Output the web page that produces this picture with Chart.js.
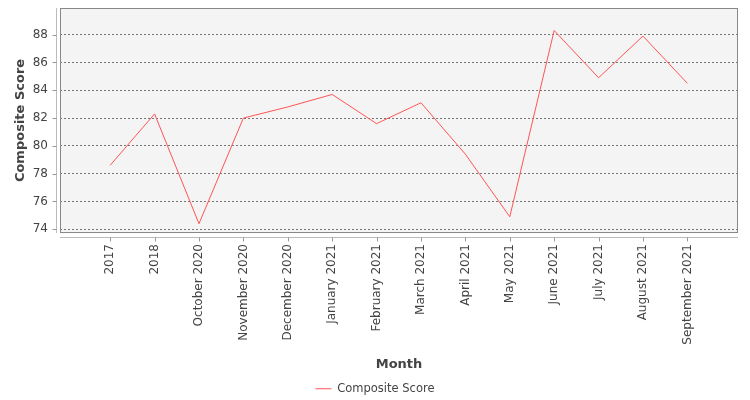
<!DOCTYPE html>
<html>
<head>
<meta charset="utf-8">
<script src="https://cdn.jsdelivr.net/npm/chart.js@4"></script>
<style>
  html, body { margin: 0; padding: 0; background: #fff; }
</style>
</head>
<body>
<canvas id="chart" width="750" height="400"></canvas>
<script>
// values
const months = ['2017', '2018', 'October 2020', 'November 2020', 'December 2020',
  'January 2021', 'February 2021', 'March 2021', 'April 2021', 'May 2021',
  'June 2021', 'July 2021', 'August 2021', 'September 2021'];
const scores = [78.6, 82.3, 74.4, 82.0, 82.8, 83.7, 81.6, 83.1, 79.4, 74.9, 88.3, 84.9, 87.9, 84.5];
const yTicks = [74, 76, 78, 80, 82, 84, 86, 88];

const FONT = 'DejaVu Sans';
const TEXT = '#444';
const PLOT_BOTTOM = 233;

// plot background, frame and the offset axis lines
const plotFrame = {
  id: 'plotFrame',
  afterLayout(chart) {
    // centre the legend on the whole canvas and nudge it down a little
    const lg = chart.legend;
    lg.left = 0;
    lg.right = chart.width;
    lg.width = chart.width;
    lg.top += 4.5;
    lg.bottom += 4.5;
  },
  beforeDraw(chart) {
    const {ctx, chartArea: a} = chart;
    ctx.save();
    ctx.fillStyle = '#f4f4f4';
    ctx.fillRect(a.left, a.top, a.right - a.left, a.bottom - a.top);
    ctx.restore();
  },
  afterDraw(chart) {
    const {ctx, chartArea: a, scales} = chart;
    ctx.save();
    ctx.lineWidth = 1;
    ctx.strokeStyle = '#888';
    ctx.strokeRect(Math.round(a.left) + 0.5, Math.round(a.top) + 0.5,
      Math.round(a.right - a.left) - 1, Math.round(a.bottom - a.top) - 1);

    ctx.strokeStyle = '#bbb';
    const ax = Math.round(a.left) - 4 + 0.5;
    const ay = Math.round(a.bottom) + 4 + 0.5;
    ctx.beginPath();
    ctx.moveTo(ax, a.top);
    ctx.lineTo(ax, a.bottom);
    ctx.moveTo(a.left, ay);
    ctx.lineTo(a.right, ay);
    ctx.stroke();

    ctx.strokeStyle = '#999';
    ctx.beginPath();
    scales.y.ticks.forEach(t => {
      const py = Math.round(scales.y.getPixelForValue(t.value)) + 0.5;
      ctx.moveTo(ax - 4, py);
      ctx.lineTo(ax, py);
    });
    scales.x.ticks.forEach(t => {
      const px = Math.round(scales.x.getPixelForValue(t.value)) + 0.5;
      ctx.moveTo(px, ay);
      ctx.lineTo(px, ay + 4);
    });
    ctx.stroke();
    ctx.restore();
  }
};

new Chart(document.getElementById('chart'), {
  type: 'line',
  data: {
    datasets: [{
      label: 'Composite Score',
      data: scores.map((v, i) => ({x: i, y: v})),
      borderColor: '#ff5555',
      backgroundColor: '#ff5555',
      borderWidth: 1,
      pointRadius: 0,
      pointStyle: 'line',
      tension: 0,
      fill: false
    }]
  },
  plugins: [plotFrame],
  options: {
    responsive: false,
    animation: false,
    layout: { padding: { top: 8, right: 12, bottom: 0, left: 0 } },
    plugins: {
      tooltip: { enabled: false },
      legend: {
        position: 'bottom',
        labels: {
          usePointStyle: true,
          pointStyleWidth: 16,
          padding: 5,
          color: TEXT,
          font: { family: FONT, size: 11.5 }
        }
      }
    },
    scales: {
      x: {
        type: 'linear',
        min: -1.13,
        max: 14.14,
        afterBuildTicks: s => { s.ticks = months.map((m, i) => ({value: i})); },
        afterFit: s => {
          s.height = s.chart.height - PLOT_BOTTOM - s.chart.legend.height;
          s.paddingLeft = 0;
          s.paddingRight = 0;
        },
        grid: { display: false, drawTicks: false },
        border: { display: false },
        ticks: {
          autoSkip: false,
          minRotation: 90,
          maxRotation: 90,
          padding: 11,
          color: TEXT,
          font: { family: FONT, size: 12 },
          callback: v => months[v]
        },
        title: {
          display: true,
          text: 'Month',
          color: TEXT,
          padding: { top: 0, bottom: 1 },
          font: { family: FONT, size: 13, weight: 'bold' }
        }
      },
      y: {
        min: 73.73,
        max: 89.92,
        afterBuildTicks: s => { s.ticks = yTicks.map(v => ({value: v})); },
        afterFit: s => {
          s.width = 60;
          s.paddingTop = 0;
          s.paddingBottom = 0;
        },
        grid: { color: '#777', lineWidth: 1, drawTicks: false },
        border: { display: false, dash: [2, 2] },
        ticks: {
          padding: 12,
          color: TEXT,
          font: { family: FONT, size: 12 }
        },
        title: {
          display: true,
          text: 'Composite Score',
          color: TEXT,
          padding: { top: 13, bottom: 0 },
          font: { family: FONT, size: 13, weight: 'bold' }
        }
      }
    }
  }
});
</script>
</body>
</html>
